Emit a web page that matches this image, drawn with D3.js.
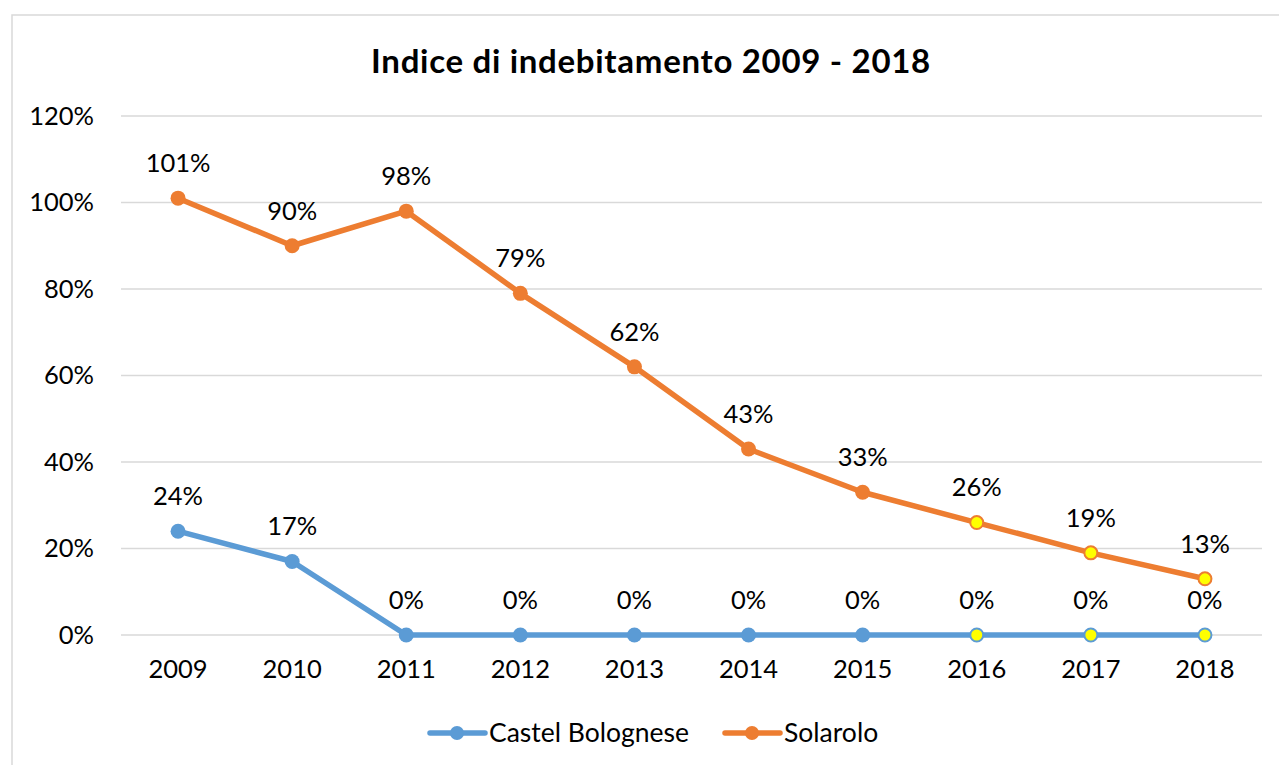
<!DOCTYPE html>
<html>
<head>
<meta charset="utf-8">
<script src="https://cdn.jsdelivr.net/npm/d3@7"></script>
<style>
  html, body { margin: 0; padding: 0; background: #fff; }
  svg { display: block; font-family: Lato, "Open Sans", sans-serif; }
</style>
</head>
<body>
<svg id="chart" width="1279" height="765"></svg>
<script>
// Debt index (indice di indebitamento), 2009-2018
const years = ["2009", "2010", "2011", "2012", "2013", "2014", "2015", "2016", "2017", "2018"];
const castelBolognese = [24, 17, 0, 0, 0, 0, 0, 0, 0, 0];
const solarolo = [101, 90, 98, 79, 62, 43, 33, 26, 19, 13];
const yTicks = [0, 20, 40, 60, 80, 100, 120];
// years whose markers are highlighted
const highlightedYears = ["2016", "2017", "2018"];

const seriesList = [
  { name: "Castel Bolognese", values: castelBolognese, color: "#5b9bd5" },
  { name: "Solarolo", values: solarolo, color: "#ed7d31" }
];

const svg = d3.select("#chart");
const W = 1279, H = 765;
const FS = 25.5;

// chart frame
svg.append("rect")
  .attr("x", 12).attr("y", 15)
  .attr("width", W + 10).attr("height", H + 10)
  .attr("fill", "#fff")
  .attr("stroke", "#d9d9d9").attr("stroke-width", 1.5);

const plot = { left: 121, right: 1262, top: 116, bottom: 635 };

const x = d3.scaleBand().domain(years).range([plot.left, plot.right]);
const y = d3.scaleLinear().domain([0, 120]).range([plot.bottom, plot.top]);
const cx = d => x(d) + x.bandwidth() / 2;

// title
svg.append("text")
  .attr("x", 651).attr("y", 73)
  .attr("text-anchor", "middle")
  .attr("font-size", 33).attr("font-weight", "bold")
  .attr("letter-spacing", 0.7)
  .attr("fill", "#000")
  .text("Indice di indebitamento 2009 - 2018");

// gridlines
svg.append("g")
  .selectAll("line").data(yTicks).join("line")
  .attr("x1", plot.left).attr("x2", plot.right)
  .attr("y1", d => y(d)).attr("y2", d => y(d))
  .attr("stroke", "#d9d9d9").attr("stroke-width", 1.5);

// y axis labels
const yAxis = d3.axisLeft(y).tickValues(yTicks).tickFormat(d => d + "%").tickSize(0).tickPadding(27);
const gy = svg.append("g").attr("transform", `translate(${plot.left},0)`).call(yAxis);
gy.select(".domain").remove();
gy.selectAll("text").attr("font-size", FS).attr("fill", "#000").attr("font-family", "Lato, sans-serif");

// x axis labels
const xAxis = d3.axisBottom(x).tickSize(0).tickPadding(25);
const gx = svg.append("g").attr("transform", `translate(0,${plot.bottom})`).call(xAxis);
gx.select(".domain").remove();
gx.selectAll("text").attr("font-size", FS).attr("fill", "#000").attr("font-family", "Lato, sans-serif");

const line = d3.line().x(d => cx(d.year)).y(d => y(d.value));

seriesList.forEach(s => {
  const pts = years.map((yr, i) => ({ year: yr, value: s.values[i] }));
  const g = svg.append("g");
  g.append("path")
    .datum(pts)
    .attr("d", line)
    .attr("fill", "none")
    .attr("stroke", s.color)
    .attr("stroke-width", 5.5)
    .attr("stroke-linejoin", "round");
  g.selectAll("circle").data(pts).join("circle")
    .attr("cx", d => cx(d.year))
    .attr("cy", d => y(d.value))
    .attr("r", d => highlightedYears.includes(d.year) ? 6.5 : 7.5)
    .attr("fill", d => highlightedYears.includes(d.year) ? "#ffff00" : s.color)
    .attr("stroke", s.color)
    .attr("stroke-width", d => highlightedYears.includes(d.year) ? 2 : 0);
  g.selectAll("text.lbl").data(pts).join("text")
    .attr("class", "lbl")
    .attr("x", d => cx(d.year))
    .attr("y", d => y(d.value) - 35)
    .attr("dy", "0.35em")
    .attr("text-anchor", "middle")
    .attr("font-size", FS)
    .attr("fill", "#000")
    .text(d => d.value + "%");
});

// legend
const legendItems = [
  { s: seriesList[0], x: 430 },
  { s: seriesList[1], x: 725 }
];
legendItems.forEach(({ s, x: lx }) => {
  const g = svg.append("g").attr("transform", `translate(${lx},733)`);
  g.append("line").attr("x1", 0).attr("x2", 55).attr("y1", 0).attr("y2", 0)
    .attr("stroke", s.color).attr("stroke-width", 5.5).attr("stroke-linecap", "round");
  g.append("circle").attr("cx", 27).attr("cy", 0).attr("r", 7).attr("fill", s.color);
  g.append("text").attr("x", 59).attr("y", 0).attr("dy", "0.35em")
    .attr("font-size", 26.5).attr("fill", "#000").text(s.name);
});
</script>
</body>
</html>
